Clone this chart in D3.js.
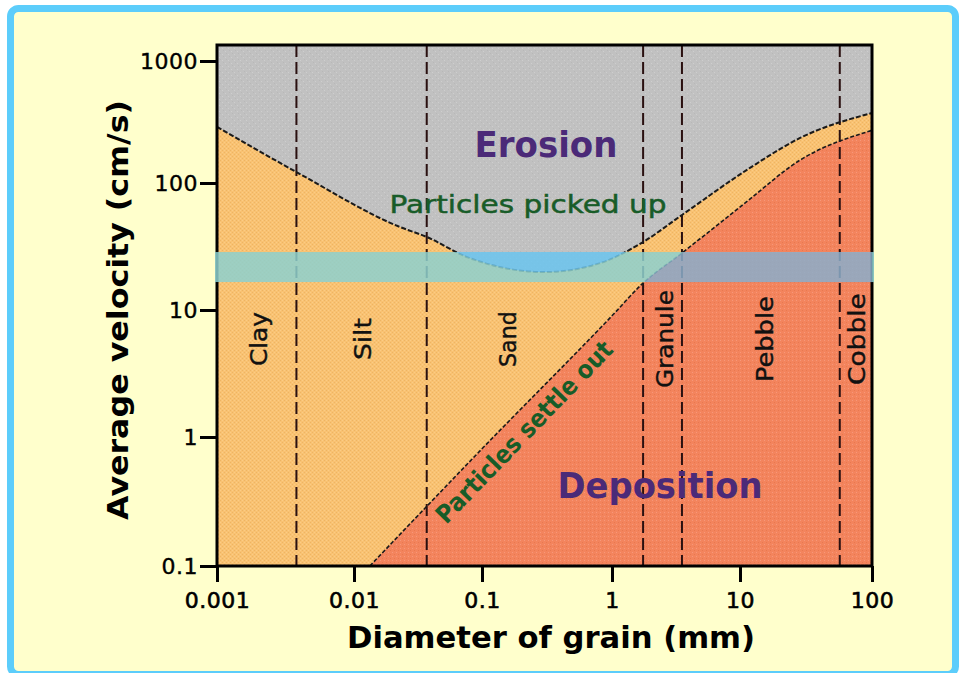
<!DOCTYPE html>
<html><head><meta charset="utf-8">
<script src="https://cdn.jsdelivr.net/npm/d3@7"></script>
<style>html,body{margin:0;padding:0;background:#fff;} svg{display:block;}</style>
</head><body><svg id="c" width="960" height="673"></svg>
<script>
// ---------- data ----------
const xTicks = [0.001, 0.01, 0.1, 1, 10, 100];
const xTickLabels = ["0.001", "0.01", "0.1", "1", "10", "100"];
const yTicks = [0.1, 1, 10, 100, 1000];
const yTickLabels = ["0.1", "1", "10", "100", "1000"];

// erosion curve (particles picked up)
const erosionSize = [0.001, 0.0038, 0.0229, 0.037, 0.0764, 0.305, 0.81, 1.75, 3.52, 11.9, 28.5, 100];
const erosionVelocity = [288, 123, 45, 37.6, 26.1, 19.9, 23.4, 34.3, 56, 133, 234, 375];

// deposition curve (particles settle out)
const depositionSize = [0.0133, 0.1, 1.0, 1.75, 3.52, 11, 28.5, 100];
const depositionVelocity = [0.1, 0.81, 9.0, 16.3, 28.1, 70, 154, 270];

// grain class boundaries (mm) and class names
const boundaries = [0.0038, 0.037, 1.75, 3.52, 57];
const classNames = ["Clay", "Silt", "Sand", "Granule", "Pebble", "Cobble"];
const classCenters = [0.002, 0.0115, 0.156, 2.55, 15.2, 75.7];

// highlighted velocity band (cm/s)
const bandRange = [16.6, 28.6];

// ---------- setup ----------
const svg = d3.select("#c");
const x = d3.scaleLog().domain(xTicks).range([217, 354, 482, 612, 740, 872]);
const y = d3.scaleLog().domain(yTicks.slice()).range([566, 437, 310, 183, 61]);
const x0 = x(0.001), x1 = x(100), yb = y(0.1), yt = 45;

const defs = svg.append("defs");
function pat(id, base, dots, size) {
  const p = defs.append("pattern").attr("id", id).attr("patternUnits", "userSpaceOnUse")
    .attr("width", size).attr("height", size);
  p.append("rect").attr("width", size).attr("height", size).attr("fill", base);
  dots.forEach(d => p.append("rect").attr("x", d[0]).attr("y", d[1]).attr("width", 1).attr("height", 1).attr("fill", d[2]));
}
pat("pGray", "#c1c1c1", [[0,0,"#cecece"],[3,3,"#cecece"],[1,2,"#b8b8b8"],[4,5,"#b8b8b8"]], 6);
pat("pOrange", "#f9c272", [[0,0,"#eeb463"],[2,0,"#fbcc86"],[0,2,"#fbcc86"],[2,2,"#eeb463"]], 4);
pat("pRed", "#f3845d", [[0,0,"#f7987a"],[2,2,"#e9784f"]], 4);

// background + border
svg.append("rect").attr("x", 10.5).attr("y", 8.5).attr("width", 945).attr("height", 666)
  .attr("rx", 8).attr("fill", "#ffffcc").attr("stroke", "#5ccdfb").attr("stroke-width", 7);

// curves
const lineGen = d3.line().x(d => x(d[0])).y(d => y(d[1])).curve(d3.curveMonotoneX);
const upperPts = d3.zip(erosionSize, erosionVelocity);
const lowerPts = d3.zip(depositionSize, depositionVelocity);
const upperPath = lineGen(upperPts);
const lowerPath = lineGen(lowerPts);
const grayPath = upperPath + `L${x1},${yt}L${x0},${yt}Z`;
const redPath = lowerPath + `L${x1},${yb}L${x(depositionSize[0])},${yb}Z`;

defs.append("clipPath").attr("id", "cGray").append("path").attr("d", grayPath);
defs.append("clipPath").attr("id", "cRed").append("path").attr("d", redPath);

const plot = svg.append("g");
plot.append("rect").attr("x", x0).attr("y", yt).attr("width", x1 - x0).attr("height", yb - yt).attr("fill", "url(#pOrange)");
plot.append("path").attr("d", grayPath).attr("fill", "url(#pGray)");
plot.append("path").attr("d", redPath).attr("fill", "url(#pRed)");

// class boundaries
plot.selectAll("line.b").data(boundaries).join("line").attr("class", "b")
  .attr("x1", d => x(d)).attr("x2", d => x(d)).attr("y1", yt).attr("y2", yb)
  .attr("stroke", "#2a1010").attr("stroke-width", 2).attr("stroke-dasharray", "12,5");

// dashed curve outlines
plot.append("path").attr("d", upperPath).attr("fill", "none").attr("stroke", "#1a1a1a")
  .attr("stroke-width", 2).attr("stroke-dasharray", "5,2");
plot.append("path").attr("d", lowerPath).attr("fill", "none").attr("stroke", "#1a1a1a")
  .attr("stroke-width", 1.6).attr("stroke-dasharray", "4,2");

// frame
svg.append("rect").attr("x", x0).attr("y", yt).attr("width", x1 - x0).attr("height", yb - yt)
  .attr("fill", "none").attr("stroke", "#000").attr("stroke-width", 3);

// band
const band = svg.append("g").attr("opacity", 0.85);
const by0 = y(bandRange[1]), by1 = y(bandRange[0]);
band.append("rect").attr("x", x0 - 2).attr("y", by0).attr("width", x1 - x0 + 4).attr("height", by1 - by0).attr("fill", "rgb(141,209,207)");
band.append("rect").attr("x", x0 - 2).attr("y", by0).attr("width", x1 - x0 + 4).attr("height", by1 - by0).attr("fill", "rgb(107,197,239)").attr("clip-path", "url(#cGray)");
band.append("rect").attr("x", x0 - 2).attr("y", by0).attr("width", x1 - x0 + 4).attr("height", by1 - by0).attr("fill", "rgb(139,174,203)").attr("clip-path", "url(#cRed)");

// axes
const font = "'DejaVu Sans', Arial, sans-serif";
const yAxis = svg.append("g").attr("transform", `translate(${x0},0)`)
  .call(d3.axisLeft(y).tickValues(yTicks).tickFormat((d, i) => yTickLabels[i]).tickSize(17).tickPadding(2));
yAxis.select(".domain").remove();
yAxis.selectAll(".tick line").attr("stroke", "#000").attr("stroke-width", 3);
yAxis.selectAll(".tick text").attr("font-family", font).attr("font-size", 22).attr("fill", "#000")
  .attr("letter-spacing", 0.5).attr("stroke", "#000").attr("stroke-width", 0.4);

const xAxis = svg.append("g").attr("transform", `translate(0,${yb})`)
  .call(d3.axisBottom(x).tickValues(xTicks).tickFormat((d, i) => xTickLabels[i]).tickSize(16).tickPadding(4));
xAxis.select(".domain").remove();
xAxis.selectAll(".tick line").attr("stroke", "#000").attr("stroke-width", 3);
xAxis.selectAll(".tick text").attr("font-family", font).attr("font-size", 22).attr("fill", "#000")
  .attr("dy", null).attr("y", 42).attr("letter-spacing", 0.5).attr("stroke", "#000").attr("stroke-width", 0.6);

// axis titles
svg.append("text").attr("transform", "translate(128,310) rotate(-90)").attr("text-anchor", "middle")
  .attr("font-family", font).attr("font-weight", "bold").attr("font-size", 28).attr("fill", "#000")
  .attr("textLength", 420).attr("lengthAdjust", "spacingAndGlyphs").text("Average velocity (cm/s)");
svg.append("text").attr("x", 551).attr("y", 648).attr("text-anchor", "middle")
  .attr("font-family", font).attr("font-weight", "bold").attr("font-size", 30).attr("fill", "#000")
  .attr("textLength", 408).attr("lengthAdjust", "spacingAndGlyphs").text("Diameter of grain (mm)");

// region labels
svg.append("text").attr("x", 546).attr("y", 157).attr("text-anchor", "middle")
  .attr("font-family", font).attr("font-weight", "bold").attr("font-size", 36).attr("fill", "#4b2a78")
  .attr("textLength", 143).attr("lengthAdjust", "spacingAndGlyphs").text("Erosion");
svg.append("text").attr("x", 660).attr("y", 498).attr("text-anchor", "middle")
  .attr("font-family", font).attr("font-weight", "bold").attr("font-size", 36).attr("fill", "#4b2a78")
  .attr("textLength", 205).attr("lengthAdjust", "spacingAndGlyphs").text("Deposition");
svg.append("text").attr("x", 528).attr("y", 213).attr("text-anchor", "middle")
  .attr("font-family", font).attr("font-size", 25).attr("fill", "#185c28").attr("stroke", "#185c28").attr("stroke-width", 0.5)
  .attr("textLength", 277).attr("lengthAdjust", "spacingAndGlyphs").text("Particles picked up");

const ang = Math.atan2(y(depositionVelocity[3]) - y(depositionVelocity[0]), x(depositionSize[3]) - x(depositionSize[0])) * 180 / Math.PI;
svg.append("text").attr("transform", `translate(${x(0.21)},${y(1.1)}) rotate(${ang})`).attr("text-anchor", "middle")
  .attr("font-family", font).attr("font-weight", "bold").attr("font-size", 25).attr("fill", "#185c28")
  .attr("textLength", 242).attr("lengthAdjust", "spacingAndGlyphs").attr("dy", 9).text("Particles settle out");

// class labels (vertical)
const labelLen = [54, 42, 56, 98, 86, 92];
svg.selectAll("text.cls").data(classNames).join("text").attr("class", "cls")
  .attr("transform", (d, i) => `translate(${x(classCenters[i]) + 9},${y(5.9)}) rotate(-90)`)
  .attr("text-anchor", "middle").attr("font-family", font).attr("font-size", 23).attr("fill", "#111")
  .attr("stroke", "#111").attr("stroke-width", 0.4)
  .attr("textLength", (d, i) => labelLen[i]).attr("lengthAdjust", "spacingAndGlyphs")
  .text(d => d);
</script></body></html>
